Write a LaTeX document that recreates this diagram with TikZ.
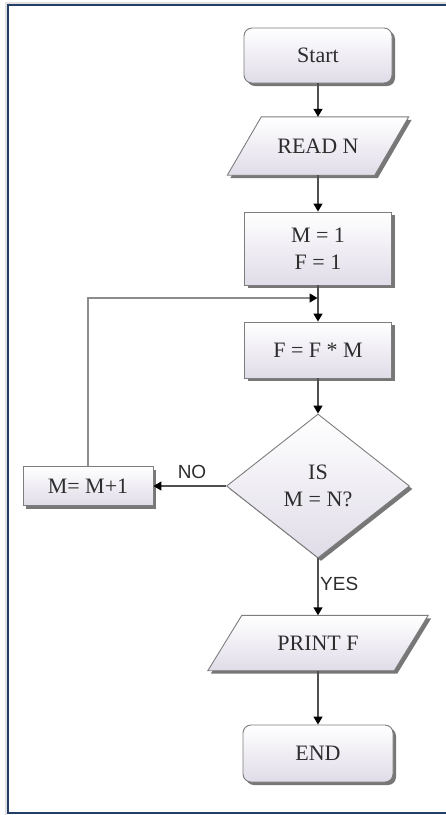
\documentclass[tikz,border=0pt]{standalone}
\usepackage{fontspec}
\setmainfont{Liberation Serif}
\newfontfamily\lblfont{Liberation Sans}
\usetikzlibrary{shapes.geometric,shadows,arrows.meta,calc,backgrounds}
\definecolor{frameblue}{RGB}{36,62,104}
\definecolor{boxbot}{RGB}{224,220,232}
\definecolor{edgegray}{RGB}{125,125,125}
\definecolor{linegray}{RGB}{80,80,80}
\definecolor{loopgray}{RGB}{140,140,140}
\definecolor{txtcol}{RGB}{45,45,45}
\definecolor{shadowcol}{RGB}{95,95,95}
\begin{document}
\begin{tikzpicture}[x=1pt,y=-1pt,
  boxstyle/.style={draw=edgegray, line width=0.9pt, top color=white, bottom color=boxbot,
    drop shadow={shadow xshift=3pt, shadow yshift=-3pt, fill=shadowcol, opacity=0.85},
    font=\fontsize{22}{27}\selectfont, text=txtcol, align=center, inner sep=0pt},
  procbox/.style={boxstyle, rectangle},
  termbox/.style={boxstyle, rectangle, rounded corners=8pt},
  decbox/.style={boxstyle, diamond},
  iotext/.style={rectangle, inner sep=0pt, font=\fontsize{22}{27}\selectfont, text=txtcol, align=center},
  ioshape/.style={draw=edgegray, line width=0.9pt, top color=white, bottom color=boxbot},
  ioshadow/.style={fill=shadowcol, opacity=0.85},
  conn/.style={draw=linegray, line width=1.4pt, -{Triangle[width=9pt,length=8pt,color=black]}},
  loopline/.style={draw=loopgray, line width=1.4pt, -{Triangle[width=9pt,length=8pt,color=black]}},
  lbl/.style={font=\lblfont\fontsize{19}{22}\selectfont, text=txtcol, inner sep=0pt}
]
\useasboundingbox (0,0) rectangle (446,815);
% frame
\draw[black!12, line width=2pt] (446,2.5) -- (5.5,2.5) -- (5.5,815);
\draw[frameblue, line width=2pt] (446,5) -- (8,5) -- (8,813) -- (446,813);

% nodes
\node[termbox, minimum width=148, minimum height=55] (start) at (318,55.5) {Start};
\node[iotext, minimum width=147, minimum height=58] (read) at (318,146) {READ N};
\node[procbox, minimum width=147, minimum height=73] (init) at (318,248.5) {M = 1\\F = 1};
\node[procbox, minimum width=147, minimum height=56] (mult) at (318,350) {F = F * M};
\node[decbox, minimum width=183, minimum height=144] (dec) at (318,486) {IS\\M = N?};
\node[procbox, minimum width=130, minimum height=39] (inc) at (88,486) {M= M+1};
\node[iotext, minimum width=186, minimum height=55] (print) at (318,643) {PRINT F};
\node[termbox, minimum width=150, minimum height=57] (stop) at (318,753.5) {END};

% parallelograms behind their texts
\begin{scope}[on background layer]
\foreach \n/\s in {read/17,print/17} {
  \path[ioshadow] ($(\n.north west)+(\s+3,3)$) -- ($(\n.north east)+(\s+3,3)$)
     -- ($(\n.south east)+(-\s+3,3)$) -- ($(\n.south west)+(-\s+3,3)$) -- cycle;
  \path[ioshape] ($(\n.north west)+(\s,0)$) -- ($(\n.north east)+(\s,0)$)
     -- ($(\n.south east)+(-\s,0)$) -- ($(\n.south west)+(-\s,0)$) -- cycle;
}
\end{scope}

% connectors
\draw[conn] (start) -- (read);
\draw[conn] (read) -- (init);
\draw[conn] (init) -- (mult);
\draw[conn] (mult) -- (dec);
\draw[conn] (dec.south) -- (print.north);
\draw[conn] (print) -- (stop);
\draw[conn] (dec.west) -- (inc.east);
\coordinate (loopcorner) at (88,298);
\coordinate (loopend) at (317.5,298);
\draw[loopline] (inc.north) -- (loopcorner) -- (loopend);

% labels
\node[lbl] (nolbl) at (192,472) {NO};
\node[lbl, anchor=west] (yeslbl) at (320,584) {YES};
\end{tikzpicture}
\end{document}
